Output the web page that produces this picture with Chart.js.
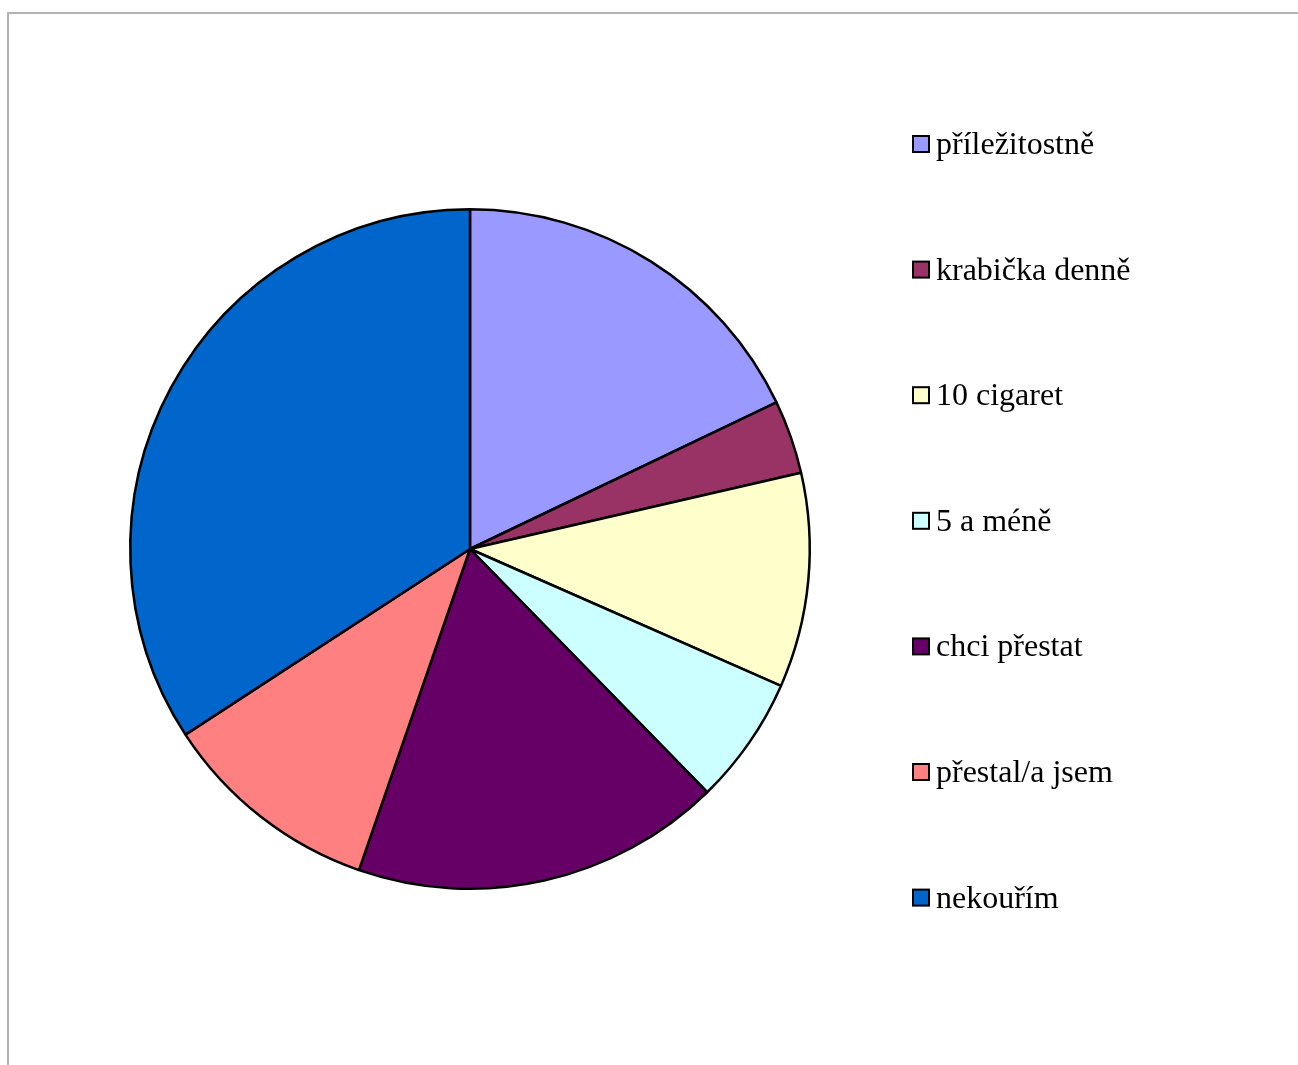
<!DOCTYPE html>
<html>
<head>
<meta charset="utf-8">
<script src="https://cdn.jsdelivr.net/npm/chart.js@4"></script>
<style>
  html, body { margin: 0; padding: 0; background: #fff; }
  #ramecek {
    position: absolute; left: 7px; top: 12px; right: 0; bottom: 0;
    border-top: 2px solid #b4b4b4; border-left: 2px solid #b4b4b4;
  }
  #graf { position: absolute; left: 0; top: 0; }
</style>
</head>
<body>
<div id="ramecek"></div>
<canvas id="graf" width="1298" height="1065"></canvas>
<script>
const kategorie = ["příležitostně", "krabička denně", "10 cigaret", "5 a méně", "chci přestat", "přestal/a jsem", "nekouřím"]
const hodnoty = [17.9, 3.5, 10.2, 6.1, 17.6, 10.5, 34.2]
const barvy = ["#9999ff", "#993366", "#ffffcc", "#ccffff", "#660066", "#ff8080", "#0066cc"]

// legenda vpravo, kreslena rucne kvuli rozestupum
const legendaPlugin = {
  id: "legendaVpravo",
  afterDraw(chart) {
    const ctx = chart.ctx
    const labels = chart.data.labels
    const colors = chart.data.datasets[0].backgroundColor
    ctx.save()
    for (let i = 0; i < labels.length; i++) {
      const base = 154 + i * 125.6
      ctx.fillStyle = colors[i]
      ctx.fillRect(913, base - 18, 16, 16)
      ctx.strokeStyle = "#000"
      ctx.lineWidth = 2
      ctx.strokeRect(913, base - 18, 16, 16)

      ctx.fillStyle = "#000"
      ctx.font = "32px 'Liberation Serif'"
      ctx.textBaseline = "alphabetic"
      ctx.fillText(labels[i], 936, base)
    }
    ctx.restore()
  }
}

new Chart(document.getElementById("graf"), {
  type: "pie",
  data: {
    labels: kategorie,
    datasets: [{
      data: hodnoty,
      backgroundColor: barvy,
      borderColor: "#000",
      borderWidth: 2.5
    }]
  },
  options: {
    responsive: false,
    animation: false,
    layout: { padding: { left: 129, top: 208, right: 487, bottom: 175 } },
    plugins: {
      legend: { display: false },
      tooltip: { enabled: false }
    }
  },
  plugins: [legendaPlugin]
})
</script>
</body>
</html>
